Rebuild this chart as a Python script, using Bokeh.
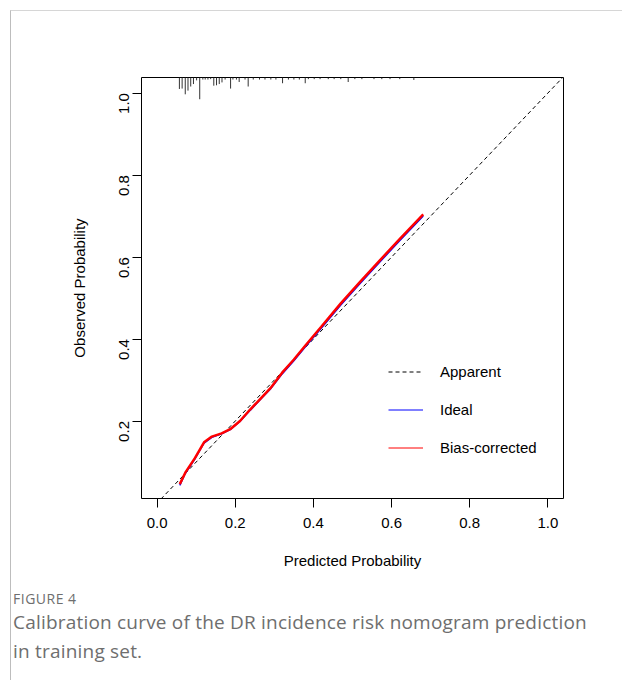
import math
from bokeh.plotting import figure
from bokeh.layouts import column
from bokeh.models import (FixedTicker, PrintfTickFormatter, Legend, LegendItem,
                          ColumnDataSource, Div)
from bokeh.embed import file_html
from bokeh.resources import INLINE

# ---------------- data ----------------
XLIM = (-0.04, 1.04)
YLIM = (0.011, 1.038)

pred_x = [0.058, 0.072, 0.097, 0.120, 0.140, 0.165, 0.187, 0.212, 0.238, 0.260,
          0.290, 0.320, 0.350, 0.380, 0.420, 0.470, 0.520, 0.570, 0.620, 0.681]
bias_corrected = [0.046, 0.074, 0.110, 0.148, 0.162, 0.170, 0.180, 0.200, 0.228, 0.250,
                  0.280, 0.318, 0.350, 0.385, 0.430, 0.487, 0.540, 0.592, 0.643, 0.704]
apparent = [0.043, 0.072, 0.108, 0.146, 0.160, 0.169, 0.179, 0.199, 0.226, 0.248,
            0.278, 0.315, 0.347, 0.382, 0.426, 0.483, 0.536, 0.588, 0.639, 0.700]

# distribution of predicted risks (rug at top): position and relative frequency
rug_x = [0.057, 0.064, 0.072, 0.079, 0.086, 0.093, 0.101, 0.109, 0.117, 0.123,
         0.130, 0.137, 0.145, 0.152, 0.159, 0.166, 0.174, 0.188, 0.194, 0.203,
         0.210, 0.225, 0.233, 0.246, 0.262, 0.276, 0.291, 0.304, 0.321, 0.336,
         0.350, 0.364, 0.379, 0.387, 0.402, 0.417, 0.438, 0.453, 0.470, 0.489,
         0.506, 0.524, 0.555, 0.575, 0.596, 0.621, 0.657]
rug_freq = [0.028, 0.027, 0.041, 0.032, 0.022, 0.016, 0.007, 0.053, 0.005, 0.005,
            0.005, 0.004, 0.020, 0.019, 0.016, 0.012, 0.005, 0.027, 0.005, 0.005,
            0.011, 0.005, 0.022, 0.005, 0.005, 0.005, 0.005, 0.005, 0.014, 0.005,
            0.005, 0.005, 0.014, 0.004, 0.004, 0.004, 0.004, 0.004, 0.004, 0.011,
            0.004, 0.004, 0.004, 0.004, 0.004, 0.004, 0.006]

x_ticks = [0.0, 0.2, 0.4, 0.6, 0.8, 1.0]
y_ticks = [0.2, 0.4, 0.6, 0.8, 1.0]

legend_labels = ["Apparent", "Ideal", "Bias-corrected"]
x_title = "Predicted Probability"
y_title = "Observed Probability"
fig_label = "FIGURE 4"
caption_lines = ["Calibration curve of the DR incidence risk nomogram prediction",
                 "in training set."]

# ---------------- main figure ----------------
FONT = "Liberation Sans"
p = figure(width=611, height=574, output_backend="svg", toolbar_location=None,
           x_range=XLIM, y_range=YLIM,
           min_border_left=130, min_border_right=59,
           min_border_top=66, min_border_bottom=87)
p.xgrid.visible = False
p.ygrid.visible = False
p.outline_line_color = "black"
p.outline_line_width = 1
p.outline_line_alpha = 1
p.background_fill_color = "white"
p.border_fill_color = "white"

for ax, ticks in ((p.xaxis[0], x_ticks), (p.yaxis[0], y_ticks)):
    ax.ticker = FixedTicker(ticks=ticks)
    ax.formatter = PrintfTickFormatter(format="%.1f")
    ax.axis_line_color = None
    ax.major_tick_in = 0
    ax.major_tick_out = 9
    ax.major_tick_line_color = "black"
    ax.minor_tick_line_color = None
    ax.major_label_text_font = FONT
    ax.major_label_text_font_size = "15px"
    ax.major_label_text_color = "black"
    ax.axis_label_text_font = FONT
    ax.axis_label_text_font_size = "15px"
    ax.axis_label_text_font_style = "normal"
    ax.axis_label_text_color = "black"

p.xaxis.axis_label = x_title
p.yaxis.axis_label = y_title
p.xaxis.major_label_standoff = 10
p.xaxis.axis_label_standoff = 21
p.yaxis.major_label_orientation = math.pi / 2
p.yaxis.major_label_standoff = 8
p.yaxis.axis_label_standoff = 24

# rug of predicted probabilities hanging from the top of the plot box
rug_src = ColumnDataSource(dict(x=rug_x, top=[YLIM[1]] * len(rug_x),
                                bottom=[YLIM[1] - f for f in rug_freq]))
p.segment(x0="x", y0="top", x1="x", y1="bottom", source=rug_src,
          line_color="#333333", line_width=1)

p.line(list(XLIM), list(XLIM), line_color="black", line_width=1, line_dash="4 3")
p.line(pred_x, apparent, line_color="#0000ff", line_width=1.5)
p.line(pred_x, bias_corrected, line_color="#ff0000", line_width=2.5)

# legend keys drawn with thin lines, as in the original (renderers hold no visible data)
nan = float("nan")
k1 = p.line([nan], [nan], line_color="black", line_width=1, line_dash="4 3")
k2 = p.line([nan], [nan], line_color="#0000ff", line_width=1)
k3 = p.line([nan], [nan], line_color="#ff0000", line_width=1)
legend = Legend(items=[LegendItem(label=legend_labels[0], renderers=[k1]),
                       LegendItem(label=legend_labels[1], renderers=[k2]),
                       LegendItem(label=legend_labels[2], renderers=[k3])],
                location=(247, 40), orientation="vertical",
                glyph_width=35, glyph_height=21, label_height=21, spacing=17,
                label_standoff=17, padding=0, margin=0,
                border_line_color=None, background_fill_alpha=0,
                label_text_font=FONT, label_text_font_size="15px",
                label_text_color="black")
p.add_layout(legend, "center")

# ---------------- caption ----------------
cap_html = (
    '<div style="font-family:\'Open Sans\'; color:#6e6e6e; padding-left:2px; '
    'white-space:nowrap;">'
    '<div style="font-size:14px; line-height:18px; margin-top:5px; '
    'letter-spacing:0.5px;">' + fig_label + '</div>'
    '<div style="font-size:19px; line-height:29px; letter-spacing:0.2px;">'
    + "<br>".join(caption_lines) + '</div></div>'
)
cap = Div(text=cap_html, width=611, height=95, margin=(0, 0, 0, 0))

layout = column(p, cap, spacing=0,
                styles={"margin-left": "10px", "margin-top": "10px",
                        "border-left": "1px solid #bdbdbd",
                        "border-top": "1px solid #d6d6d6"})

open("out.html", "w").write(file_html(layout, INLINE))
